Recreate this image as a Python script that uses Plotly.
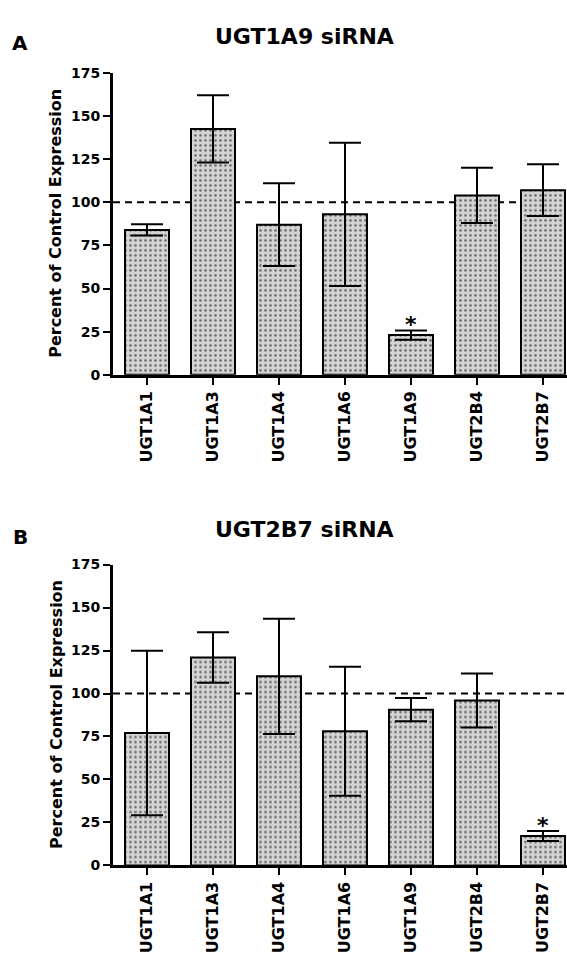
import plotly.graph_objects as go

categories = ["UGT1A1", "UGT1A3", "UGT1A4", "UGT1A6", "UGT1A9", "UGT2B4", "UGT2B7"]
top_means = [84, 142.5, 87, 93, 23, 104, 107]
top_errs = [3.3, 19.5, 24, 41.5, 2.7, 16, 15]
bottom_means = [77, 121, 110, 78, 90.6, 96, 17.1]
bottom_errs = [47.8, 14.7, 33.5, 37.5, 6.8, 15.7, 2.9]
y_ticks = [0, 25, 50, 75, 100, 125, 150, 175]
panel_titles = ["UGT1A9 siRNA", "UGT2B7 siRNA"]
panel_letters = ["A", "B"]
sig_top = "UGT1A9"
sig_bottom = "UGT2B7"
y_title = "Percent of Control Expression"

W, H = 567, 959
FONT = "DejaVu Sans"

def px_y(p):
    return 1 - p / H

fig = go.Figure()

def bar_trace(means, errs, xa, ya):
    return go.Bar(
        x=categories, y=means, xaxis=xa, yaxis=ya,
        marker=dict(
            color="#d4d4d4",
            line=dict(color="black", width=2),
            pattern=dict(shape=".", fgcolor="black", bgcolor="#d4d4d4", size=5, solidity=0.22),
        ),
        error_y=dict(type="data", array=errs, visible=True, color="black", thickness=2, width=16),
        showlegend=False, hoverinfo="skip",
    )

fig.add_trace(bar_trace(top_means, top_errs, "x", "y"))
fig.add_trace(bar_trace(bottom_means, bottom_errs, "x2", "y2"))

x_dom = [113 / W, 1.0]
x_range = [-0.515, 6.364]
tickfont = dict(family=FONT, size=16, color="black", weight="bold")
ytickfont = dict(family=FONT, size=14, color="black", weight="bold")

def xaxis(anchor):
    return dict(domain=x_dom, range=x_range, anchor=anchor, type="category",
                showline=True, linewidth=3, linecolor="black", ticks="outside",
                ticklen=7, tickwidth=2, tickcolor="black", tickangle=-90,
                tickfont=tickfont, showgrid=False, zeroline=False, fixedrange=True)

def yaxis(anchor, dom):
    return dict(domain=dom, range=[0, 175], anchor=anchor, tickvals=y_ticks,
                showline=True, linewidth=3, linecolor="black", ticks="outside",
                ticklen=7, tickwidth=2, tickcolor="black", tickfont=ytickfont,
                showgrid=False, zeroline=False, fixedrange=True)

top_dom = [px_y(373), px_y(66)]
bot_dom = [px_y(872), px_y(566)]

fig.update_layout(
    width=W, height=H, margin=dict(l=0, r=0, t=0, b=0),
    paper_bgcolor="white", plot_bgcolor="white",
    bargap=0.333,
    xaxis=xaxis("y"), yaxis=yaxis("x", top_dom),
    xaxis2=xaxis("y2"), yaxis2=yaxis("x2", bot_dom),
)

for xr, yr in [("x", "y"), ("x2", "y2")]:
    fig.add_shape(type="line", xref=f"{xr} domain", yref=yr, x0=0, x1=1, y0=100, y1=100,
                  line=dict(color="black", width=2, dash="7px,5px"), layer="below")

ann = []
for i, (title, letter, ty, ly) in enumerate(zip(panel_titles, panel_letters, [29, 530], [36, 538])):
    ann.append(dict(text=title, xref="paper", yref="paper", x=304 / W, y=px_y(ty),
                    xanchor="center", yanchor="middle", showarrow=False,
                    font=dict(family=FONT, size=22, color="black", weight="bold")))
    ann.append(dict(text=letter, xref="paper", yref="paper", x=20 / W, y=px_y(ly),
                    xanchor="center", yanchor="middle", showarrow=False,
                    font=dict(family=FONT, size=20, color="black", weight="bold")))
for cy in [219.5, 719]:
    ann.append(dict(text=y_title, xref="paper", yref="paper", x=56 / W, y=px_y(cy),
                    xanchor="center", yanchor="middle", textangle=-90, showarrow=False,
                    font=dict(family=FONT, size=16, color="black", weight="bold")))

ti = categories.index(sig_top)
bi = categories.index(sig_bottom)
ann.append(dict(text="*", xref="x", yref="y", x=sig_top, y=top_means[ti] + top_errs[ti],
                yanchor="bottom", showarrow=False, yshift=-9,
                font=dict(family=FONT, size=22, color="black", weight="bold")))
ann.append(dict(text="*", xref="x2", yref="y2", x=sig_bottom, y=bottom_means[bi] + bottom_errs[bi],
                yanchor="bottom", showarrow=False, yshift=-9,
                font=dict(family=FONT, size=22, color="black", weight="bold")))
fig.update_layout(annotations=ann)

fig.write_html("out.html")
